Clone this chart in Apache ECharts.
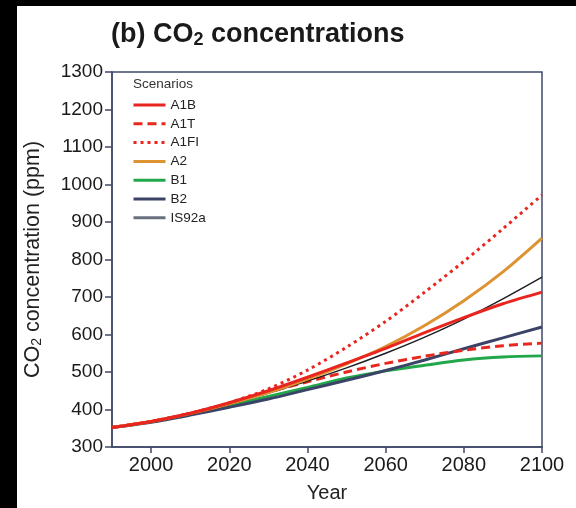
<!DOCTYPE html>
<html>
<head>
<meta charset="utf-8">
<script src="https://cdn.jsdelivr.net/npm/echarts@6/dist/echarts.min.js"></script>
<style>
html,body{margin:0;padding:0;background:#000;}
#paper{position:absolute;left:17px;top:6px;width:559px;height:502px;background:#fff;}
#chart{position:absolute;left:0;top:0;width:576px;height:508px;}
</style>
</head>
<body>
<div id="paper"></div>
<div id="chart"></div>
<script>
const years = [1990, 2000, 2010, 2020, 2030, 2040, 2050, 2060, 2070, 2080, 2090, 2100];
const xTickLabels = [2000, 2020, 2040, 2060, 2080, 2100];
const yTickLabels = [300, 400, 500, 600, 700, 800, 900, 1000, 1100, 1200, 1300];
const scenarioNames = ['A1B', 'A1T', 'A1FI', 'A2', 'B1', 'B2', 'IS92a'];
const A1B   = [352, 368, 390, 418, 450, 486, 524, 563, 605, 645, 682, 713];
const A1T   = [352, 368, 390, 416, 446, 474, 500, 523, 542, 558, 570, 577];
const A1FI  = [352, 368, 390, 418, 455, 505, 566, 635, 713, 795, 882, 972];
const A2    = [352, 368, 389, 415, 445, 481, 522, 568, 624, 690, 767, 857];
const B1    = [352, 367, 387, 410, 435, 459, 484, 503, 518, 532, 540, 543];
const B2    = [352, 366, 385, 406, 428, 453, 478, 504, 532, 562, 591, 620];
const IS92a = [352, 367, 388, 413, 444, 476, 511, 550, 593, 641, 695, 753];

const pair = arr => years.map((y, i) => [y, arr[i]]);
const font = '"Liberation Sans", Arial, Helvetica, sans-serif';
const axisColor = '#3f4868';

const styles = {
  A1B:   {color: '#e8251f', width: 3, type: 'solid', z: 8},
  A1T:   {color: '#e8281e', width: 3, type: [9, 5], z: 5},
  A1FI:  {color: '#e8251f', width: 3, type: [3, 4], z: 9},
  A2:    {color: '#de9332', width: 3, type: 'solid', z: 7},
  B1:    {color: '#22a84a', width: 3, type: 'solid', z: 3},
  B2:    {color: '#3b4466', width: 3, type: 'solid', z: 4},
  IS92a: {color: '#1e1e24', width: 1.5, type: 'solid', z: 6}
};
const legendStyles = Object.assign({}, styles, {IS92a: {color: '#6b7080', width: 3, type: 'solid'}});
const dataByName = {A1B: A1B, A1T: A1T, A1FI: A1FI, A2: A2, B1: B1, B2: B2, IS92a: IS92a};

const series = scenarioNames.map(n => {
  const s = styles[n];
  return {
    name: n, type: 'line', data: pair(dataByName[n]), symbol: 'none', showSymbol: false, smooth: 0.3,
    lineStyle: {color: s.color, width: s.width, type: s.type}, itemStyle: {color: s.color}, z: s.z
  };
});

const legendData = scenarioNames.map(n => {
  const s = legendStyles[n];
  return {name: n, lineStyle: {color: s.color, width: s.width, type: s.type, opacity: 1}, itemStyle: {color: s.color, opacity: 0}};
});

const chart = echarts.init(document.getElementById('chart'), null, {renderer: 'canvas'});
chart.setOption({
  backgroundColor: 'transparent',
  animation: false,
  textStyle: {fontFamily: font},
  title: {
    text: '(b) CO{s|2} concentrations',
    left: 106, top: 15,
    textStyle: {
      fontFamily: font, fontSize: 27, fontWeight: 'bold', color: '#1a1a1a',
      rich: {s: {fontFamily: font, fontSize: 18, fontWeight: 'bold', color: '#1a1a1a', verticalAlign: 'bottom', padding: [11, 0, 0, 0]}}
    }
  },
  grid: {left: 112, right: 34, top: 72, bottom: 59, show: true, borderColor: axisColor, borderWidth: 1.5, backgroundColor: 'transparent'},
  legend: {
    data: legendData, orient: 'vertical', left: 127, top: 93,
    itemWidth: 32, itemHeight: 12, itemGap: 4.8,
    itemStyle: {opacity: 0},
    textStyle: {fontFamily: font, fontSize: 13.5, color: '#222'}
  },
  graphic: [{type: 'text', left: 133, top: 77, style: {text: 'Scenarios', font: '13.5px ' + font, fill: '#333'}}],
  xAxis: {
    type: 'value', min: 1990, max: 2100,
    name: 'Year', nameLocation: 'middle', nameGap: 36,
    nameTextStyle: {fontFamily: font, fontSize: 20, color: '#222'},
    axisLine: {show: true, lineStyle: {color: axisColor, width: 1.5}},
    axisTick: {show: true, inside: false, length: 6, customValues: xTickLabels, lineStyle: {color: axisColor, width: 1.5}},
    axisLabel: {customValues: xTickLabels, formatter: v => String(v), fontFamily: font, fontSize: 20, color: '#1a1a1a', margin: 8},
    splitLine: {show: false}
  },
  yAxis: {
    type: 'value', min: 300, max: 1300, interval: 100,
    name: 'CO{s|2} concentration (ppm)', nameLocation: 'middle', nameGap: 68, nameRotate: 90,
    nameTextStyle: {fontFamily: font, fontSize: 21.5, color: '#222',
      rich: {s: {fontFamily: font, fontSize: 14, color: '#222', verticalAlign: 'bottom', padding: [8, 0, 0, 0]}}},
    axisLine: {show: true, lineStyle: {color: axisColor, width: 1.5}},
    axisTick: {show: true, inside: false, length: 7, lineStyle: {color: axisColor, width: 1.5}},
    axisLabel: {formatter: v => String(v), fontFamily: font, fontSize: 19, color: '#1a1a1a', margin: 9},
    splitLine: {show: false}
  },
  series: series
});
</script>
</body>
</html>
